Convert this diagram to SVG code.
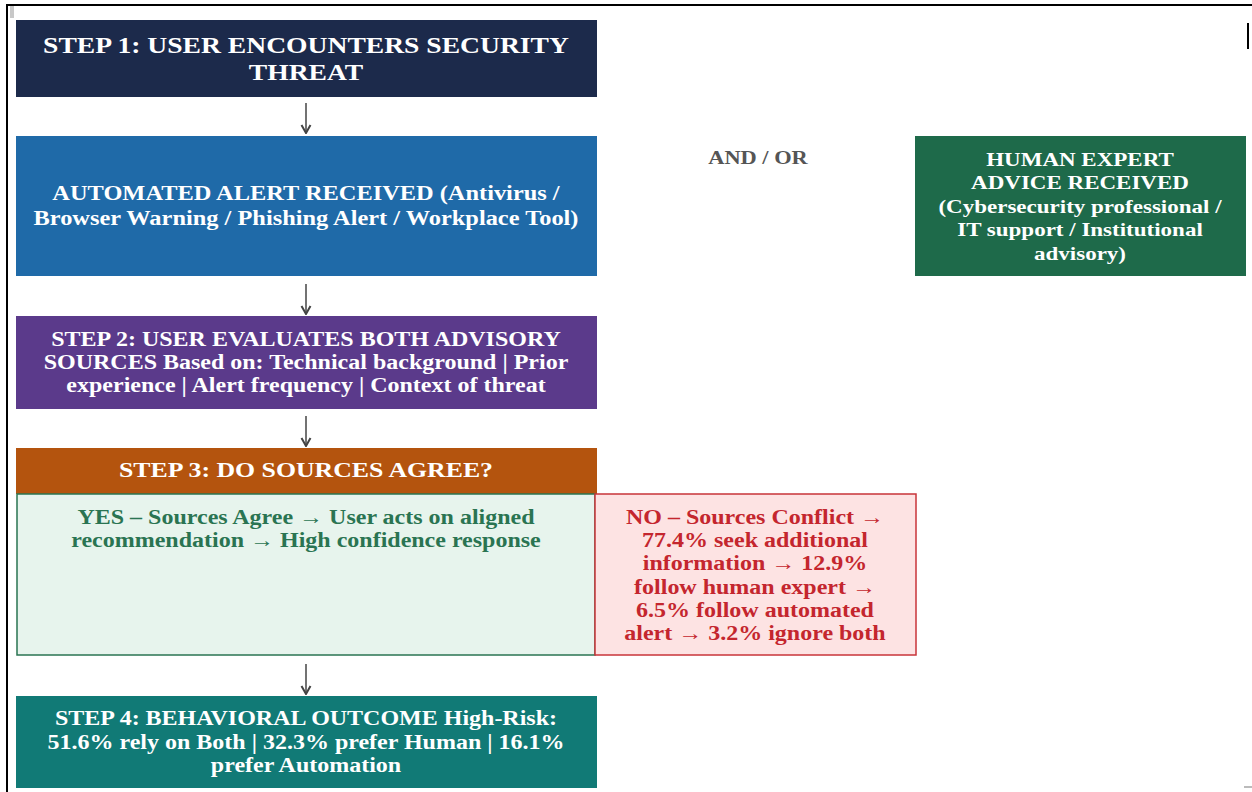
<svg xmlns="http://www.w3.org/2000/svg" width="1252" height="792" viewBox="0 0 1252 792">
<defs>
<style>
text{font-family:"Liberation Serif","Times New Roman",serif;font-weight:bold;text-anchor:middle}
.w{fill:#ffffff}
.t1{font-size:23px}
.t3{font-size:21.5px}
.t{font-size:20px}
.th{font-size:19.5px}
.ta{font-size:19px}
.g{fill:#2a7452}
.r{fill:#c4262e}
.gray{fill:#555555}
.conn line{stroke:#444444;stroke-width:1.5}
</style>
<marker id="ah" viewBox="0 0 10 12" refX="9" refY="6" markerWidth="10" markerHeight="12" markerUnits="userSpaceOnUse" orient="auto">
<path d="M1,1.5 L9,6 L1,10.5" fill="none" stroke="#444444" stroke-width="2"/>
</marker>
</defs>
<rect x="0" y="0" width="1252" height="792" fill="#ffffff"/>
<g id="frame">
<line x1="7" y1="5" x2="1252" y2="5" stroke="#000" stroke-width="2"/>
<line x1="7" y1="4" x2="7" y2="792" stroke="#000" stroke-width="2"/>
<rect x="10" y="6" width="4" height="12" fill="#c8c8c8"/>
<line x1="1248" y1="23" x2="1248" y2="49" stroke="#000" stroke-width="2"/>
<rect x="1244" y="786" width="8" height="2" fill="#bbbbbb"/>
</g>
<g class="conn" id="connectors">
<line x1="306" y1="103" x2="306" y2="133" marker-end="url(#ah)"/>
<line x1="306" y1="284" x2="306" y2="314" marker-end="url(#ah)"/>
<line x1="306" y1="416" x2="306" y2="446" marker-end="url(#ah)"/>
<line x1="306" y1="664" x2="306" y2="694" marker-end="url(#ah)"/>
</g>
<g id="step1">
<rect x="16" y="20" width="581" height="77" fill="#1c2a4b"/>
<g transform="translate(306,0) scale(1.2,1)">
<text class="w t1" x="0" y="53">STEP 1: USER ENCOUNTERS SECURITY</text>
<text class="w t1" x="0" y="80">THREAT</text>
</g>
</g>
<g id="automated">
<rect x="16" y="136" width="581" height="140" fill="#1f6aa8"/>
<g transform="translate(306,0) scale(1.22,1)">
<text class="w t" x="0" y="200">AUTOMATED ALERT RECEIVED (Antivirus /</text>
<text class="w t" x="0" y="225">Browser Warning / Phishing Alert / Workplace Tool)</text>
</g>
</g>
<g id="andor">
<g transform="translate(758,0) scale(1.18,1)">
<text class="gray ta" x="0" y="164">AND / OR</text>
</g>
</g>
<g id="human">
<rect x="915" y="136" width="331" height="140" fill="#1e6a4a"/>
<g transform="translate(1080,0) scale(1.18,1)">
<text class="w th" x="0" y="166">HUMAN EXPERT</text>
<text class="w th" x="0" y="189">ADVICE RECEIVED</text>
<text class="w th" x="0" y="213">(Cybersecurity professional /</text>
<text class="w th" x="0" y="236">IT support / Institutional</text>
<text class="w th" x="0" y="260">advisory)</text>
</g>
</g>
<g id="step2">
<rect x="16" y="316" width="581" height="93" fill="#5b3a8b"/>
<g transform="translate(306,0) scale(1.2,1)">
<text class="w t" x="0" y="346">STEP 2: USER EVALUATES BOTH ADVISORY</text>
<text class="w t" x="0" y="369">SOURCES Based on: Technical background | Prior</text>
<text class="w t" x="0" y="392">experience | Alert frequency | Context of threat</text>
</g>
</g>
<g id="step3">
<rect x="16" y="448" width="581" height="46" fill="#b4540e"/>
<g transform="translate(306,0) scale(1.2,1)">
<text class="w t3" x="0" y="477">STEP 3: DO SOURCES AGREE?</text>
</g>
</g>
<g id="yes">
<rect x="17" y="494" width="578" height="161" fill="#e7f4ed" stroke="#2a7452" stroke-width="1.5"/>
<g transform="translate(306,0) scale(1.2,1)">
<text class="g t" x="0" y="524">YES – Sources Agree → User acts on aligned</text>
<text class="g t" x="0" y="547">recommendation → High confidence response</text>
</g>
</g>
<g id="no">
<rect x="595" y="494" width="321" height="161" fill="#fde3e3" stroke="#c8343a" stroke-width="1.5"/>
<g transform="translate(755,0) scale(1.2,1)">
<text class="r t" x="0" y="524">NO – Sources Conflict →</text>
<text class="r t" x="0" y="547">77.4% seek additional</text>
<text class="r t" x="0" y="570">information → 12.9%</text>
<text class="r t" x="0" y="594">follow human expert →</text>
<text class="r t" x="0" y="617">6.5% follow automated</text>
<text class="r t" x="0" y="640">alert → 3.2% ignore both</text>
</g>
</g>
<g id="step4">
<rect x="16" y="696" width="581" height="92" fill="#117a76"/>
<g transform="translate(306,0) scale(1.2,1)">
<text class="w t" x="0" y="725">STEP 4: BEHAVIORAL OUTCOME High-Risk:</text>
<text class="w t" x="0" y="749">51.6% rely on Both | 32.3% prefer Human | 16.1%</text>
<text class="w t" x="0" y="772">prefer Automation</text>
</g>
</g>
</svg>
